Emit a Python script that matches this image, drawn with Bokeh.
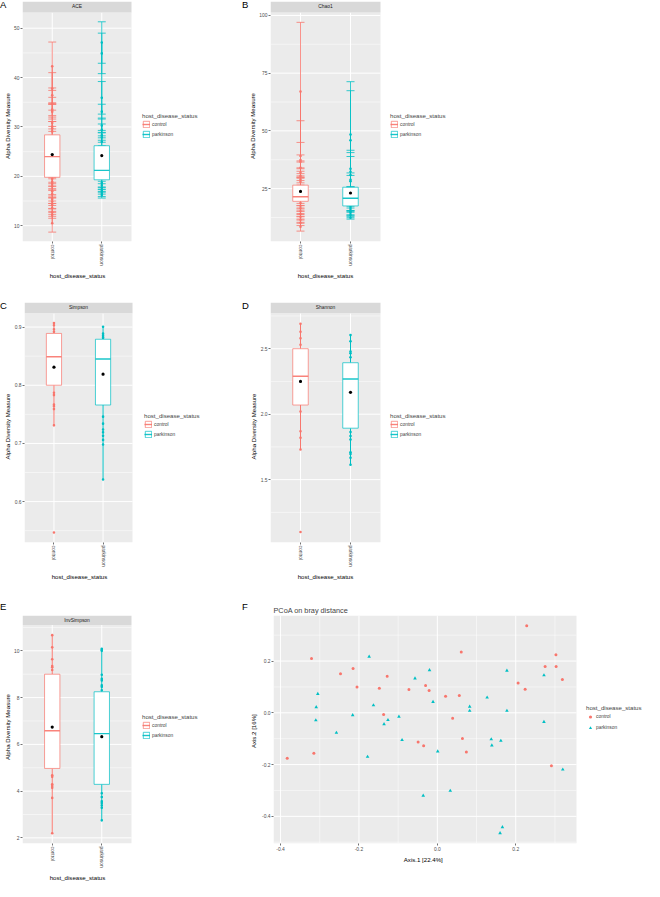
import math
from bokeh.plotting import figure
from bokeh.models import FixedTicker, Legend, LegendItem, Spacer, PrintfTickFormatter, Title, Div
from bokeh.layouts import row, column
from bokeh.embed import file_html
from bokeh.resources import INLINE
from bokeh.core.properties import value

FONT = "Liberation Sans"
C_CTRL = "#F8766D"
C_PARK = "#00BFC4"
PANEL_BG = "#EBEBEB"
STRIP_BG = "#D9D9D9"

# ---------------- data ----------------
groups = ["control", "parkinson"]

# ACE (value, standard error)
ace_ctrl_pts = [42.3, 37.8, 36.4, 34.7, 33.5, 33.1, 30.8, 30.1, 29.7, 29.1, 19.5, 18.9, 18.5, 18.0,
                17.0, 16.4, 15.4, 14.9, 14.2, 13.6, 12.7, 12.2, 10.5]
ace_ctrl_se = [4.9, 3.2, 1.5, 1.3, 1.2, 1.5, 1.2, 1.0, 1.4, 1.0, 1.0, 0.9, 1.0, 0.8,
               1.0, 0.8, 0.9, 0.8, 0.8, 0.9, 0.8, 0.7, 1.8]
ace_ctrl_box = [10.5, 19.8, 24.0, 28.4, 42.3]   # whisker lo, q1, median, q3, whisker hi
ace_park_pts = [47.1, 44.9, 35.9, 33.1, 30.3, 29.4, 28.3, 27.9, 27.0, 18.7, 18.2, 17.7, 17.1, 16.6, 16.2]
ace_park_se = [4.2, 4.1, 3.3, 1.5, 1.5, 1.2, 1.0, 1.0, 0.8, 0.9, 0.8, 0.8, 0.7, 0.7, 0.6]
ace_park_box = [16.2, 19.3, 21.2, 26.2, 47.1]
ace_means = [24.4, 24.2]

# Chao1
chao_ctrl_pts = [67.0, 39.1, 37.4, 36.6, 34.0, 32.0, 30.5, 29.0, 28.0, 18.8, 17.6, 16.5, 15.2, 14.0,
                 12.8, 11.5, 10.2, 8.5]
chao_ctrl_se = [30.0, 15.3, 7.6, 3.0, 2.5, 2.0, 2.0, 1.5, 1.5, 1.2, 1.0, 1.2, 1.0, 1.2, 1.0, 1.5, 1.2, 1.9]
chao_ctrl_box = [8.5, 19.5, 21.5, 26.5, 67.0]
chao_park_pts = [48.4, 45.9, 33.6, 32.3, 30.9, 28.8, 28.2, 17.0, 16.2, 15.1, 14.5, 13.6, 12.4]
chao_park_se = [22.9, 21.5, 8.0, 8.3, 8.0, 3.0, 2.5, 1.5, 1.2, 1.5, 1.0, 1.2, 0.6]
chao_park_box = [12.4, 17.5, 20.8, 25.6, 48.4]
chao_means = [23.8, 23.1]

# Simpson
simp_ctrl_pts = [0.907, 0.903, 0.896, 0.892, 0.787, 0.783, 0.767, 0.764, 0.759, 0.731]
simp_ctrl_out = [0.547]
simp_ctrl_box = [0.731, 0.800, 0.849, 0.889, 0.907]
simp_park_pts = [0.9005, 0.889, 0.886, 0.883, 0.881, 0.746, 0.734, 0.724, 0.719, 0.713, 0.706, 0.698, 0.638]
simp_park_out = []
simp_park_box = [0.638, 0.766, 0.845, 0.879, 0.9005]
simp_means = [0.831, 0.819]

# Shannon
shan_ctrl_pts = [2.69, 2.63, 2.58, 2.53, 2.02, 1.87, 1.82, 1.73]
shan_ctrl_out = [1.10]
shan_ctrl_box = [1.73, 2.07, 2.29, 2.50, 2.69]
shan_park_pts = [2.604, 2.557, 2.478, 2.465, 2.435, 1.863, 1.833, 1.806, 1.709, 1.696, 1.667, 1.614]
shan_park_out = []
shan_park_box = [1.614, 1.893, 2.269, 2.393, 2.604]
shan_means = [2.25, 2.167]

# InvSimpson
inv_ctrl_pts = [10.67, 10.15, 9.64, 9.35, 9.30, 9.18, 4.68, 4.61, 4.29, 4.22, 4.14, 3.71, 2.20]
inv_ctrl_box = [2.20, 4.97, 6.58, 9.00, 10.67]
inv_park_pts = [10.09, 10.04, 10.0, 8.98, 8.80, 8.73, 8.53, 8.46, 8.31, 3.91, 3.75, 3.57, 3.49, 3.39, 3.29, 2.75]
inv_park_box = [2.75, 4.29, 6.46, 8.25, 10.09]
inv_means = [6.74, 6.33]

# PCoA on bray distance
pcoa_ctrl_x = [-0.383, -0.321, -0.315, -0.247, -0.215, -0.205, -0.148, -0.137, -0.128, -0.0725, -0.049,
               -0.035, -0.030, -0.021, 0.021, 0.039, 0.056, 0.061, 0.064, 0.074, 0.206, 0.224, 0.228,
               0.275, 0.291, 0.3025, 0.303, 0.319]
pcoa_ctrl_y = [-0.176, 0.210, -0.156, 0.151, 0.171, 0.100, 0.095, -0.007, 0.141, 0.090, -0.113,
               -0.127, 0.106, 0.086, 0.064, -0.021, 0.067, 0.235, -0.099, -0.151, 0.115, 0.091, 0.336,
               0.179, -0.205, 0.224, 0.179, 0.129]
pcoa_park_x = [-0.305, -0.309, -0.310, -0.2575, -0.216, -0.178, -0.174, -0.163, -0.136, -0.126, -0.098,
               -0.090, -0.057, -0.020, -0.011, 0.001, -0.036, 0.033, 0.0825, 0.0825, 0.127, 0.1375,
               0.139, 0.162, 0.1775, 0.1775, 0.166, 0.160, 0.272, 0.272, 0.320]
pcoa_park_y = [0.073, 0.022, -0.029, -0.077, -0.009, -0.170, 0.217, 0.029, -0.044, -0.028, -0.015,
               -0.105, 0.133, 0.165, 0.042, -0.149, -0.320, -0.301, 0.024, 0.008, 0.059, -0.102,
               -0.126, -0.108, 0.163, 0.008, -0.442, -0.465, 0.145, -0.035, -0.219]
pcoa_xlim = [-0.418, 0.355]
pcoa_ylim = [-0.505, 0.376]
pcoa_ticks = [-0.4, -0.2, 0.0, 0.2]
pcoa_xminor = [-0.3, -0.1, 0.1, 0.3]
pcoa_yminor = [-0.5, -0.3, -0.1, 0.1, 0.3]

XTITLE_W = 55.6   # approx. rendered width of "host_disease_status" at 6.1px
YTITLE_W = 66.1   # approx. rendered width of "Alpha Diversity Measure" at 6.1px
FXTITLE_W = 42.4  # approx. rendered width of "Axis.1   [22.4%]" at 6.1px


def style_axes(p):
    for ax in p.axis:
        ax.axis_line_color = None
        ax.major_tick_line_color = "#333333"
        ax.major_tick_line_width = 0.7
        ax.major_tick_out = 2
        ax.major_tick_in = 0
        ax.minor_tick_line_color = None
        ax.major_label_text_font = FONT
        ax.major_label_text_font_size = "4.9px"
        ax.major_label_text_color = "#4D4D4D"
        ax.major_label_standoff = 1
        ax.axis_label_text_font = FONT
        ax.axis_label_text_font_size = "6.1px"
        ax.axis_label_text_font_style = "normal"
        ax.axis_label_text_color = "black"
        ax.axis_label_standoff = 2


def side_title(text, offset, standoff):
    return Title(text=text, align="left", offset=offset, standoff=standoff, text_font=FONT,
                 text_font_size="6.1px", text_font_style="normal", text_color="black")


def letter_div(t, w, pad=0):
    return Div(text=t, width=w, height=1, margin=0,
               styles={"font-family": FONT, "font-size": "9.5px", "line-height": "9.5px", "color": "black",
                       "overflow": "visible", "position": "relative", "z-index": "10",
                       "padding-top": "%dpx" % pad})


def style_legend(lg, gh):
    lg.title = "host_disease_status"
    lg.title_text_font = FONT
    lg.title_text_font_size = "6.1px"
    lg.title_text_font_style = "normal"
    lg.title_standoff = 1
    lg.label_text_font = FONT
    lg.label_text_font_size = "4.9px"
    lg.glyph_width = 8
    lg.glyph_height = gh
    lg.label_height = gh
    lg.label_standoff = 2
    lg.spacing = 2
    lg.padding = 0
    lg.margin = 0
    lg.border_line_color = None
    lg.background_fill_alpha = 0


def grid_lines(p, x0, x1, y0, y1, xmaj, xmin, ymaj, ymin):
    def inside(v, a, b):
        return [t for t in v if a <= t <= b]
    for vals, w in ((inside(ymin, y0, y1), 0.5), (inside(ymaj, y0, y1), 1.0)):
        if vals:
            p.segment(x0=[x0] * len(vals), y0=vals, x1=[x1] * len(vals), y1=vals, line_color="white", line_width=w)
    for vals, w in ((inside(xmin, x0, x1), 0.5), (inside(xmaj, x0, x1), 1.0)):
        if vals:
            p.segment(x0=vals, y0=[y0] * len(vals), x1=vals, y1=[y1] * len(vals), line_color="white", line_width=w)


def box_panel(strip, ylo, yhi, yticks, yminor, yfmt, grp, width, left, top, bottom,
              panel_h, strip_h, leg_y):
    panel_w = 110
    upp = 2.2 / panel_w
    frame_w = width - left
    xmax = 0.4 + frame_w * upp
    ytop = yhi + (yhi - ylo) * strip_h / panel_h
    frame_h = panel_h + strip_h
    p = figure(width=width, height=top + frame_h + bottom, x_range=(0.4, xmax), y_range=(ylo, ytop),
               output_backend="svg", toolbar_location=None,
               min_border_left=left, min_border_right=0, min_border_top=top, min_border_bottom=bottom)
    p.background_fill_alpha = 0
    p.border_fill_alpha = 0
    p.outline_line_color = None
    p.grid.visible = False
    p.yaxis.ticker = FixedTicker(ticks=yticks, minor_ticks=[])
    p.xaxis.ticker = FixedTicker(ticks=[1, 2], minor_ticks=[])
    p.xaxis.major_label_overrides = {1: groups[0], 2: groups[1]}
    p.xaxis.major_label_orientation = -math.pi / 2
    p.yaxis.formatter = PrintfTickFormatter(format=yfmt)
    style_axes(p)
    p.add_layout(side_title("host_disease_status", panel_w / 2 - XTITLE_W / 2, 3), "below")
    p.add_layout(side_title("Alpha Diversity Measure", panel_h / 2 - YTITLE_W / 2, 2), "left")

    # panel background, grid and facet strip
    p.quad(left=[0.4], right=[2.6], bottom=[ylo], top=[yhi], fill_color=PANEL_BG, line_color=None)
    grid_lines(p, 0.4, 2.6, ylo, yhi, [1, 2], [], yticks, yminor)
    p.quad(left=[0.4], right=[2.6], bottom=[yhi], top=[ytop], fill_color=STRIP_BG, line_color=None)
    p.text(x=[1.5], y=[(yhi + ytop) / 2], text=[strip], text_align="center", text_baseline="middle",
           text_font=value(FONT), text_font_size="4.9px", text_color="#1A1A1A")

    items = []
    hw = 0.155
    for gi, g in enumerate(grp):
        x = gi + 1
        col = g["color"]
        pts = g["pts"]
        se = g.get("se")
        xs = [x] * len(pts)
        if se is not None:
            lo = [v - s for v, s in zip(pts, se)]
            hi = [v + s for v, s in zip(pts, se)]
            p.segment(x0=xs, y0=lo, x1=xs, y1=hi, line_color=col, line_width=0.8)
            p.segment(x0=[x - 0.08] * len(pts), y0=hi, x1=[x + 0.08] * len(pts), y1=hi,
                      line_color=col, line_width=0.8)
            p.segment(x0=[x - 0.08] * len(pts), y0=lo, x1=[x + 0.08] * len(pts), y1=lo,
                      line_color=col, line_width=0.8)
        p.scatter(x=xs, y=pts, size=2.6, fill_color=col, line_color=None)
        out = g.get("out", [])
        if out:
            p.scatter(x=[x] * len(out), y=out, size=2.6, fill_color=col, line_color=None)
        wlo, q1, med, q3, whi = g["box"]
        p.segment(x0=[x, x], y0=[wlo, q3], x1=[x, x], y1=[q1, whi], line_color=col, line_width=1)
        qr = p.quad(left=[x - hw], right=[x + hw], bottom=[q1], top=[q3], fill_color="white",
                    line_color=col, line_alpha=0.7, line_width=1)
        mr = p.segment(x0=[x - hw], y0=[med], x1=[x + hw], y1=[med], line_color=col,
                       line_alpha=0.9, line_width=1.4)
        p.scatter(x=[x], y=[g["mean"]], size=3.2, fill_color="black", line_color=None)
        items.append(LegendItem(label=groups[gi], renderers=[qr, mr]))

    lg = Legend(items=items, location=(panel_w + 10, leg_y))
    style_legend(lg, 8)
    p.add_layout(lg)
    return p


def grp2(ctrl_pts, park_pts, ctrl_box, park_box, means, ctrl_se=None, park_se=None, ctrl_out=None, park_out=None):
    return [
        {"color": C_CTRL, "pts": ctrl_pts, "se": ctrl_se, "box": ctrl_box, "mean": means[0], "out": ctrl_out or []},
        {"color": C_PARK, "pts": park_pts, "se": park_se, "box": park_box, "mean": means[1], "out": park_out or []},
    ]


pA = box_panel("ACE", 6.8, 53.2, [10, 20, 30, 40, 50], [15, 25, 35, 45], "%d",
               grp2(ace_ctrl_pts, ace_park_pts, ace_ctrl_box, ace_park_box, ace_means, ace_ctrl_se, ace_park_se),
               242, 20, 0, 37, 231, 11, 103)
pB = box_panel("Chao1", 2.1, 101.3, [25, 50, 75, 100], [12.5, 37.5, 62.5, 87.5], "%d",
               grp2(chao_ctrl_pts, chao_park_pts, chao_ctrl_box, chao_park_box, chao_means, chao_ctrl_se, chao_park_se),
               230, 28, 0, 37, 231, 11, 103)
pC = box_panel("Simpson", 0.5297, 0.9235, [0.6, 0.7, 0.8, 0.9], [0.55, 0.65, 0.75, 0.85], "%.1f",
               grp2(simp_ctrl_pts, simp_park_pts, simp_ctrl_box, simp_park_box, simp_means,
                    ctrl_out=simp_ctrl_out, park_out=simp_park_out),
               242, 20, 0, 36, 232, 11, 104)
pD = box_panel("Shannon", 1.02, 2.77, [1.5, 2.0, 2.5], [1.25, 1.75, 2.25, 2.75], "%.1f",
               grp2(shan_ctrl_pts, shan_park_pts, shan_ctrl_box, shan_park_box, shan_means,
                    ctrl_out=shan_ctrl_out, park_out=shan_park_out),
               230, 28, 0, 36, 232, 11, 104)
pE = box_panel("InvSimpson", 1.76, 11.11, [2, 4, 6, 8, 10], [3, 5, 7, 9, 11], "%d",
               grp2(inv_ctrl_pts, inv_park_pts, inv_ctrl_box, inv_park_box, inv_means),
               242, 20, 2, 35, 233, 10, 104)

# ---- F: PCoA ----
F_W, F_LEFT, F_PANEL_W = 402, 31, 303
f_frame_w = F_W - F_LEFT
f_upp = (pcoa_xlim[1] - pcoa_xlim[0]) / F_PANEL_W
pF = figure(width=F_W, height=280, x_range=(pcoa_xlim[0], pcoa_xlim[0] + f_frame_w * f_upp),
            y_range=(pcoa_ylim[0], pcoa_ylim[1]),
            output_backend="svg", toolbar_location=None, title="PCoA on bray distance",
            min_border_left=F_LEFT, min_border_right=0, min_border_top=12, min_border_bottom=18)
pF.background_fill_alpha = 0
pF.border_fill_alpha = 0
pF.outline_line_color = None
pF.grid.visible = False
pF.title.text_font = FONT
pF.title.text_font_size = "7.3px"
pF.title.text_font_style = "normal"
pF.title.align = "left"
pF.title.standoff = 2
pF.xaxis.ticker = FixedTicker(ticks=pcoa_ticks, minor_ticks=[])
pF.yaxis.ticker = FixedTicker(ticks=pcoa_ticks, minor_ticks=[])
pF.xaxis.formatter = PrintfTickFormatter(format="%.1f")
pF.yaxis.formatter = PrintfTickFormatter(format="%.1f")
pF.yaxis.axis_label = "Axis.2   [16%]"
style_axes(pF)
pF.add_layout(side_title("Axis.1   [22.4%]", F_PANEL_W / 2 - FXTITLE_W / 2, 1), "below")
pF.quad(left=[pcoa_xlim[0]], right=[pcoa_xlim[1]], bottom=[pcoa_ylim[0]], top=[pcoa_ylim[1]],
        fill_color=PANEL_BG, line_color=None)
grid_lines(pF, pcoa_xlim[0], pcoa_xlim[1], pcoa_ylim[0], pcoa_ylim[1], pcoa_ticks, pcoa_xminor,
           pcoa_ticks, pcoa_yminor)
rc = pF.scatter(x=pcoa_ctrl_x, y=pcoa_ctrl_y, marker="circle", size=3, fill_color=C_CTRL, line_color=None)
rp = pF.scatter(x=pcoa_park_x, y=pcoa_park_y, marker="triangle", size=3.6, fill_color=C_PARK, line_color=None)
lgF = Legend(items=[LegendItem(label="control", renderers=[rc]), LegendItem(label="parkinson", renderers=[rp])],
             location=(F_PANEL_W + 10, 111))
style_legend(lgF, 9)
pF.add_layout(lgF)

layout = column(
    row(letter_div("A", 242), letter_div("B", 230)),
    row(pA, pB),
    Spacer(height=21),
    row(letter_div("C", 242), letter_div("D", 230)),
    row(pC, pD),
    Spacer(height=19),
    row(letter_div("E", 242, 2), letter_div("F", 402, 2)),
    row(pE, pF),
)
open("out.html", "w").write(file_html(layout, INLINE))
